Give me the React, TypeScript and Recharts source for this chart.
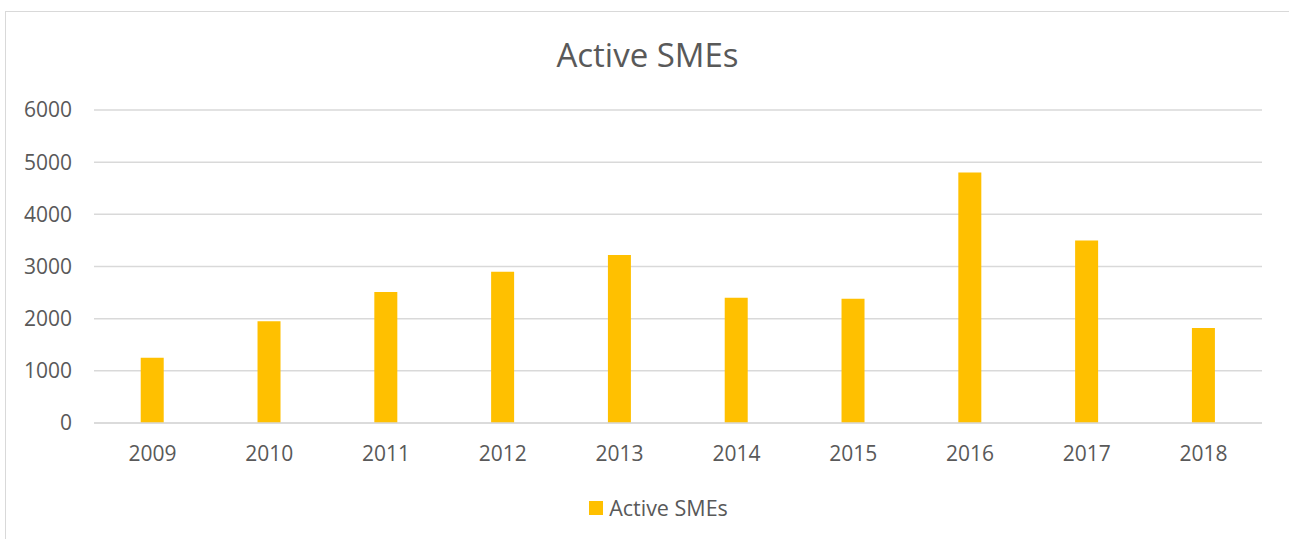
import React from "react";
import { BarChart, Bar, XAxis, YAxis, CartesianGrid } from "recharts";

const years = ["2009", "2010", "2011", "2012", "2013", "2014", "2015", "2016", "2017", "2018"];
const activeSMEs = [1250, 1950, 2510, 2900, 3220, 2400, 2380, 4800, 3500, 1820];
const yTicks = [0, 1000, 2000, 3000, 4000, 5000, 6000];
const seriesName = "Active SMEs";
const title = "Active SMEs";

const data = years.map((y, i) => ({ year: y, value: activeSMEs[i] }));

const FONT = "'Open Sans', sans-serif";
const TEXT = "#595959";
const BAR = "#FFC000";

export default function App() {
  return (
    <div style={{ position: "absolute", left: 0, top: 0, width: 1289, height: 539, background: "#fff", fontFamily: FONT }}>
      <div
        style={{
          position: "absolute",
          left: 5,
          top: 11,
          width: 1300,
          height: 600,
          borderLeft: "1px solid #D9D9D9",
          borderTop: "1px solid #D9D9D9",
          boxSizing: "border-box",
        }}
      />
      <div
        style={{
          position: "absolute",
          left: 0,
          width: 1295,
          top: 33,
          textAlign: "center",
          fontSize: 33,
          color: TEXT,
          lineHeight: "44px",
        }}
      >
        {title}
      </div>
      <div style={{ position: "absolute", left: 0, top: 0 }}>
        <BarChart
          width={1289}
          height={539}
          data={data}
          margin={{ top: 110, right: 27, bottom: 0, left: 0 }}
          barCategoryGap="40%"
        >
          <CartesianGrid vertical={false} stroke="#D9D9D9" strokeWidth={1.5} />
          <XAxis
            dataKey="year"
            axisLine={{ stroke: "#D9D9D9", strokeWidth: 1.5 }}
            tickLine={false}
            tickSize={0}
            tickMargin={23}
            tick={{ fill: TEXT, fontSize: 21, fontFamily: FONT }}
            height={116}
          />
          <YAxis
            domain={[0, 6000]}
            ticks={yTicks}
            interval={0}
            axisLine={false}
            tickLine={false}
            tickSize={0}
            tickMargin={22}
            width={94}
            tick={{ fill: TEXT, fontSize: 21, fontFamily: FONT }}
          />
          <Bar dataKey="value" name={seriesName} fill={BAR} isAnimationActive={false} />
        </BarChart>
      </div>
      <div
        style={{
          position: "absolute",
          left: 11,
          width: 1295,
          top: 493,
          display: "flex",
          justifyContent: "center",
          alignItems: "center",
          fontSize: 21.5,
          color: TEXT,
          lineHeight: "30px",
        }}
      >
        <span style={{ display: "inline-block", width: 14, height: 14, background: BAR, marginRight: 6 }} />
        <span>{seriesName}</span>
      </div>
    </div>
  );
}
